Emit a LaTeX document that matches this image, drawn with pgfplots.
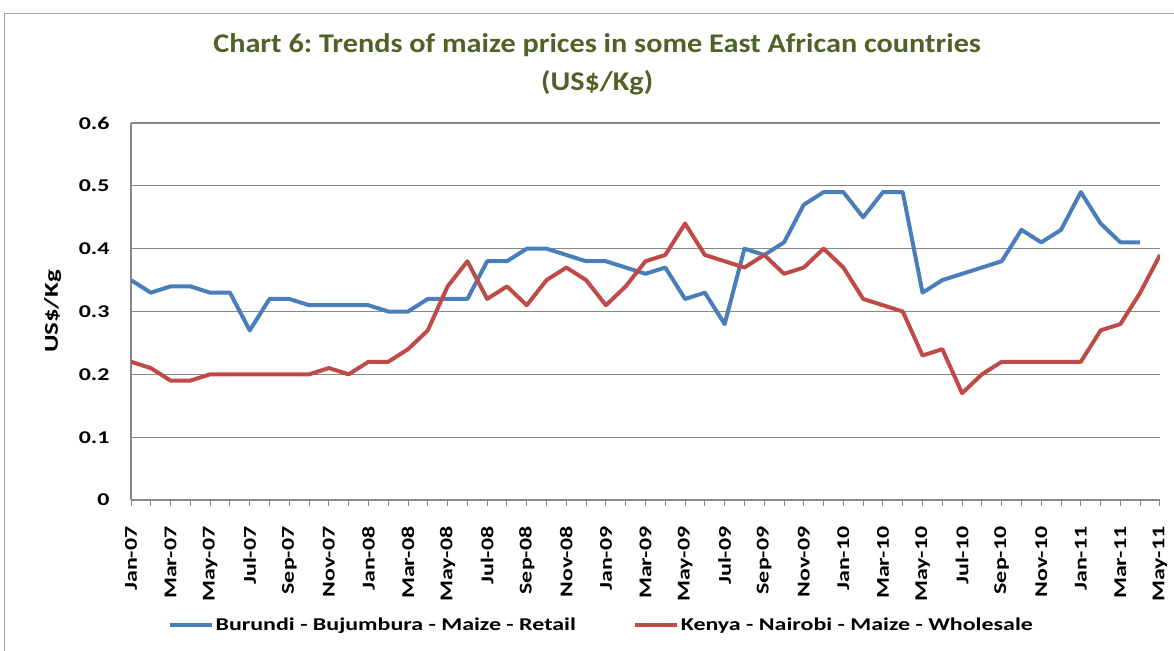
\documentclass[border=0pt]{standalone}
\usepackage{fontspec}
\setmainfont{Carlito}
\newfontfamily\lblfont[FakeStretch=1.33]{Carlito}
\newfontfamily\ylblfont[FakeStretch=1.38]{Carlito}
\newfontfamily\ttlfont[FakeStretch=1.12]{Carlito}
\usepackage{pgfplots}
\pgfplotsset{compat=1.18}
\definecolor{serblue}{HTML}{4A7EBB}
\definecolor{serred}{HTML}{BE4B48}
\definecolor{titlegreen}{HTML}{4F6228}
\definecolor{gridgray}{HTML}{888888}
\frenchspacing
\begin{document}
\begin{tikzpicture}
\useasboundingbox (0bp,0bp) rectangle (1174bp,-651bp);
\draw[gridgray!80, line width=1bp] (4bp,-651bp) -- (4bp,-13bp) -- (1175bp,-13bp);
\begin{axis}[
  at={(131bp,-500bp)}, anchor=south west,
  width=1029bp, height=377bp, scale only axis,
  xmin=0, xmax=52, ymin=0, ymax=0.6,
  ytick={0,0.1,...,0.6},
  xtick={0,2,...,52},
  xticklabels={Jan-07,Mar-07,May-07,Jul-07,Sep-07,Nov-07,Jan-08,Mar-08,May-08,Jul-08,Sep-08,Nov-08,Jan-09,Mar-09,May-09,Jul-09,Sep-09,Nov-09,Jan-10,Mar-10,May-10,Jul-10,Sep-10,Nov-10,Jan-11,Mar-11,May-11},
  minor xtick={1,3,...,51},
  axis x line*=bottom, axis y line*=left,
  axis line style={gridgray, line width=1.2bp, -},
  ymajorgrids, major grid style={gridgray, line width=1.2bp},
  tick align=outside,
  major tick length=6bp, minor tick length=6bp,
  xtick style={gridgray, line width=1bp},
  ytick style={draw=none},
  /pgf/number format/assume math mode=true,
  tick label style={font=\lblfont\bfseries\fontsize{18bp}{20bp}\selectfont, black},
  xticklabel style={rotate=90, anchor=east, xshift=-17bp},
  yticklabel style={anchor=east, xshift=-12bp},
  ylabel={US\$/Kg},
  ylabel style={at={(axis description cs:-0.076,0.5)}, anchor=center, font=\ylblfont\bfseries\fontsize{19.5bp}{21bp}\selectfont},
  title={Chart 6: Trends of maize prices in some East African countries\\(US\$/Kg)},
  title style={at={(axis description cs:0.453,1.14)}, anchor=center, align=center, text=titlegreen, font=\ttlfont\bfseries\fontsize{27bp}{38bp}\selectfont},
  legend columns=2,
  legend style={at={(axis description cs:0.457,-0.332)}, anchor=center, draw=none, fill=none,
    font=\lblfont\bfseries\fontsize{18bp}{20bp}\selectfont,
    /tikz/every even column/.append style={column sep=55bp}},
  legend image code/.code={\draw[#1] (0bp,0bp) -- (42bp,0bp);},
]
\addplot[serblue, line width=4bp, line join=round] coordinates {
(0,0.35)(1,0.33)(2,0.34)(3,0.34)(4,0.33)(5,0.33)(6,0.27)(7,0.32)(8,0.32)(9,0.31)(10,0.31)(11,0.31)(12,0.31)(13,0.30)(14,0.30)(15,0.32)(16,0.32)(17,0.32)(18,0.38)(19,0.38)(20,0.40)(21,0.40)(22,0.39)(23,0.38)(24,0.38)(25,0.37)(26,0.36)(27,0.37)(28,0.32)(29,0.33)(30,0.28)(31,0.40)(32,0.39)(33,0.41)(34,0.47)(35,0.49)(36,0.49)(37,0.45)(38,0.49)(39,0.49)(40,0.33)(41,0.35)(42,0.36)(43,0.37)(44,0.38)(45,0.43)(46,0.41)(47,0.43)(48,0.49)(49,0.44)(50,0.41)(51,0.41)};
\addlegendentry{Burundi - Bujumbura - Maize - Retail}
\addplot[serred, line width=4bp, line join=round] coordinates {
(0,0.22)(1,0.21)(2,0.19)(3,0.19)(4,0.20)(5,0.20)(6,0.20)(7,0.20)(8,0.20)(9,0.20)(10,0.21)(11,0.20)(12,0.22)(13,0.22)(14,0.24)(15,0.27)(16,0.34)(17,0.38)(18,0.32)(19,0.34)(20,0.31)(21,0.35)(22,0.37)(23,0.35)(24,0.31)(25,0.34)(26,0.38)(27,0.39)(28,0.44)(29,0.39)(30,0.38)(31,0.37)(32,0.39)(33,0.36)(34,0.37)(35,0.40)(36,0.37)(37,0.32)(38,0.31)(39,0.30)(40,0.23)(41,0.24)(42,0.17)(43,0.20)(44,0.22)(45,0.22)(46,0.22)(47,0.22)(48,0.22)(49,0.27)(50,0.28)(51,0.33)(52,0.39)};
\addlegendentry{Kenya - Nairobi - Maize - Wholesale}
\end{axis}
\end{tikzpicture}
\end{document}
